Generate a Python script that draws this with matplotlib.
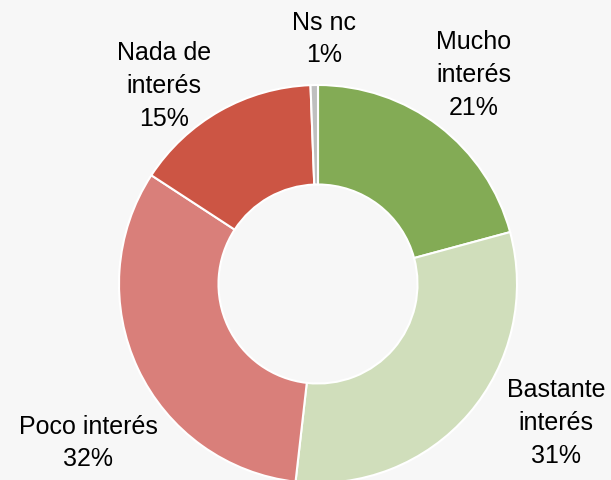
import matplotlib
matplotlib.use("Agg")
import matplotlib.pyplot as plt

categories = ["Mucho\ninterés", "Bastante\ninterés", "Poco interés", "Nada de\ninterés", "Ns nc"]
values = [20.8, 31.0, 32.4, 15.2, 0.6]
colors = ["#83AB55", "#D0DEBB", "#D97F7A", "#CC5544", "#BFBFBF"]

W, H = 611, 481
fig = plt.figure(figsize=(W / 100, H / 100), dpi=100)
bg = "#F7F7F7"
fig.patch.set_facecolor(bg)
ax = fig.add_axes([0, 0, 1, 1])
ax.set_facecolor(bg)

cx, cy, R = 318, 196, 199
ax.pie(values, colors=colors, startangle=90, counterclock=False,
       center=(cx, cy), radius=R,
       wedgeprops=dict(width=R * 0.5, edgecolor="white", linewidth=1.5))
ax.set_xlim(0, W)
ax.set_ylim(0, H)
ax.set_aspect("equal")
ax.axis("off")

label_pos = [(474, H - 75), (556, H - 423), (88, H - 443), (164, H - 86), (324, H - 39)]
for cat, v, (x, y) in zip(categories, values, label_pos):
    ax.text(x, y, f"{cat}\n{round(v):.0f}%", ha="center", va="center",
            fontsize=18, family=["Liberation Sans", "DejaVu Sans"],
            linespacing=1.45, color="black")

fig.savefig("out.png", dpi=100, facecolor=bg)
